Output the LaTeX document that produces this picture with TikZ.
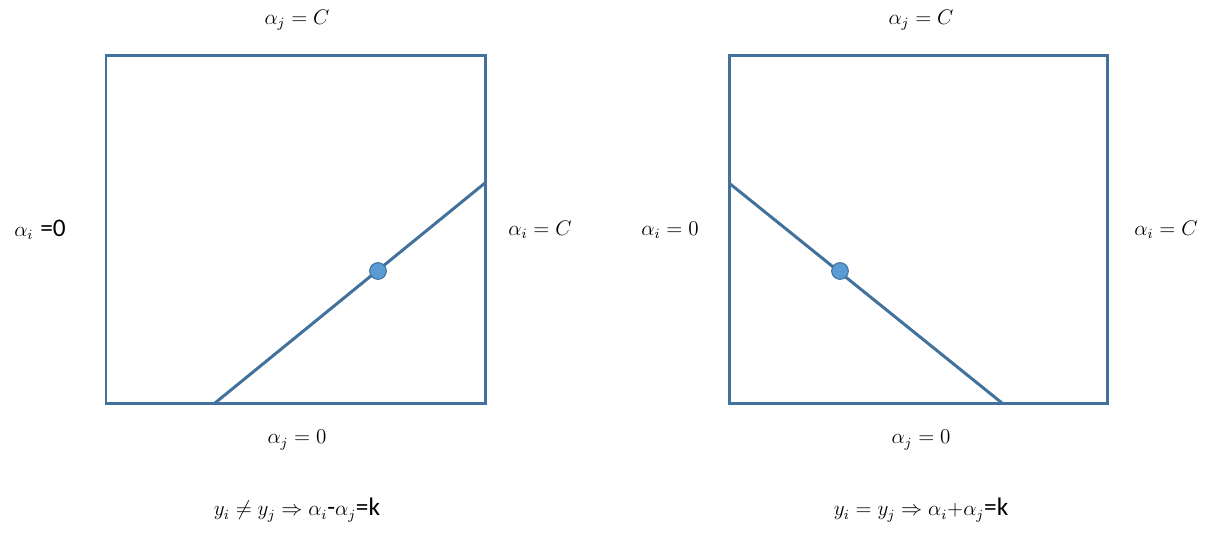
\documentclass[tikz,border=0pt]{standalone}
\usepackage{amsmath,amssymb}
\usepackage{fontspec}
\newfontfamily\calib{Carlito}
\usepackage{tikz}
\usetikzlibrary{calc}
\usepackage{xcolor}
\definecolor{edgeblue}{HTML}{41719C}
\definecolor{dotblue}{HTML}{5B9BD5}

\begin{document}
\begin{tikzpicture}[x=0.02cm,y=-0.02cm,
		box/.style={line width=1.7pt,edgeblue},
		cut/.style={line width=1.7pt,edgeblue},
		pt/.style={circle,fill=dotblue,draw=edgeblue,line width=0.6pt,inner sep=0pt,minimum size=9.5pt},
		lab/.style={font=\large,inner sep=0pt}]
			
			\useasboundingbox (0,0) rectangle (1209,532);
			
			% Left square
			\draw[box] (106,55) rectangle (485,403);
			\coordinate (lA) at (215,403);
			\coordinate (lB) at (485,183);
			\draw[cut] (lA) -- (lB);
			\node[pt] (lP) at (378,271) {};
			
			% Right square
			\draw[box] (729,55) rectangle (1107,403);
			\coordinate (rA) at (729,183);
			\coordinate (rB) at (1002,403);
			\draw[cut] (rA) -- (rB);
			\node[pt] (rP) at (840,271) {};
			
			% Labels (left)
			\node[lab] (lTop) at (297,20) {$\alpha_j = C$};
			\node[lab] (lBot) at (297,440) {$\alpha_j = 0$};
			\node[lab] (lLeft) at (40,230) {$\alpha_i$ {\calib\Large =0}};
			\node[lab] (lRight) at (540,230) {$\alpha_i = C$};
			\node[lab] (lEq) at (297,510) {$y_i \neq y_j \Rightarrow \alpha_i${\calib\Large -}$\alpha_j${\calib\Large =k}};
			
			% Labels (right)
			\node[lab] (rTop) at (921,20) {$\alpha_j = C$};
			\node[lab] (rBot) at (921,440) {$\alpha_j = 0$};
			\node[lab] (rLeft) at (670,230) {$\alpha_i = 0$};
			\node[lab] (rRight) at (1166,230) {$\alpha_i = C$};
			\node[lab] (rEq) at (921,510) {$y_i = y_j \Rightarrow \alpha_i${+}$\alpha_j${\calib\Large =k}};
			
		\end{tikzpicture}
\end{document}
